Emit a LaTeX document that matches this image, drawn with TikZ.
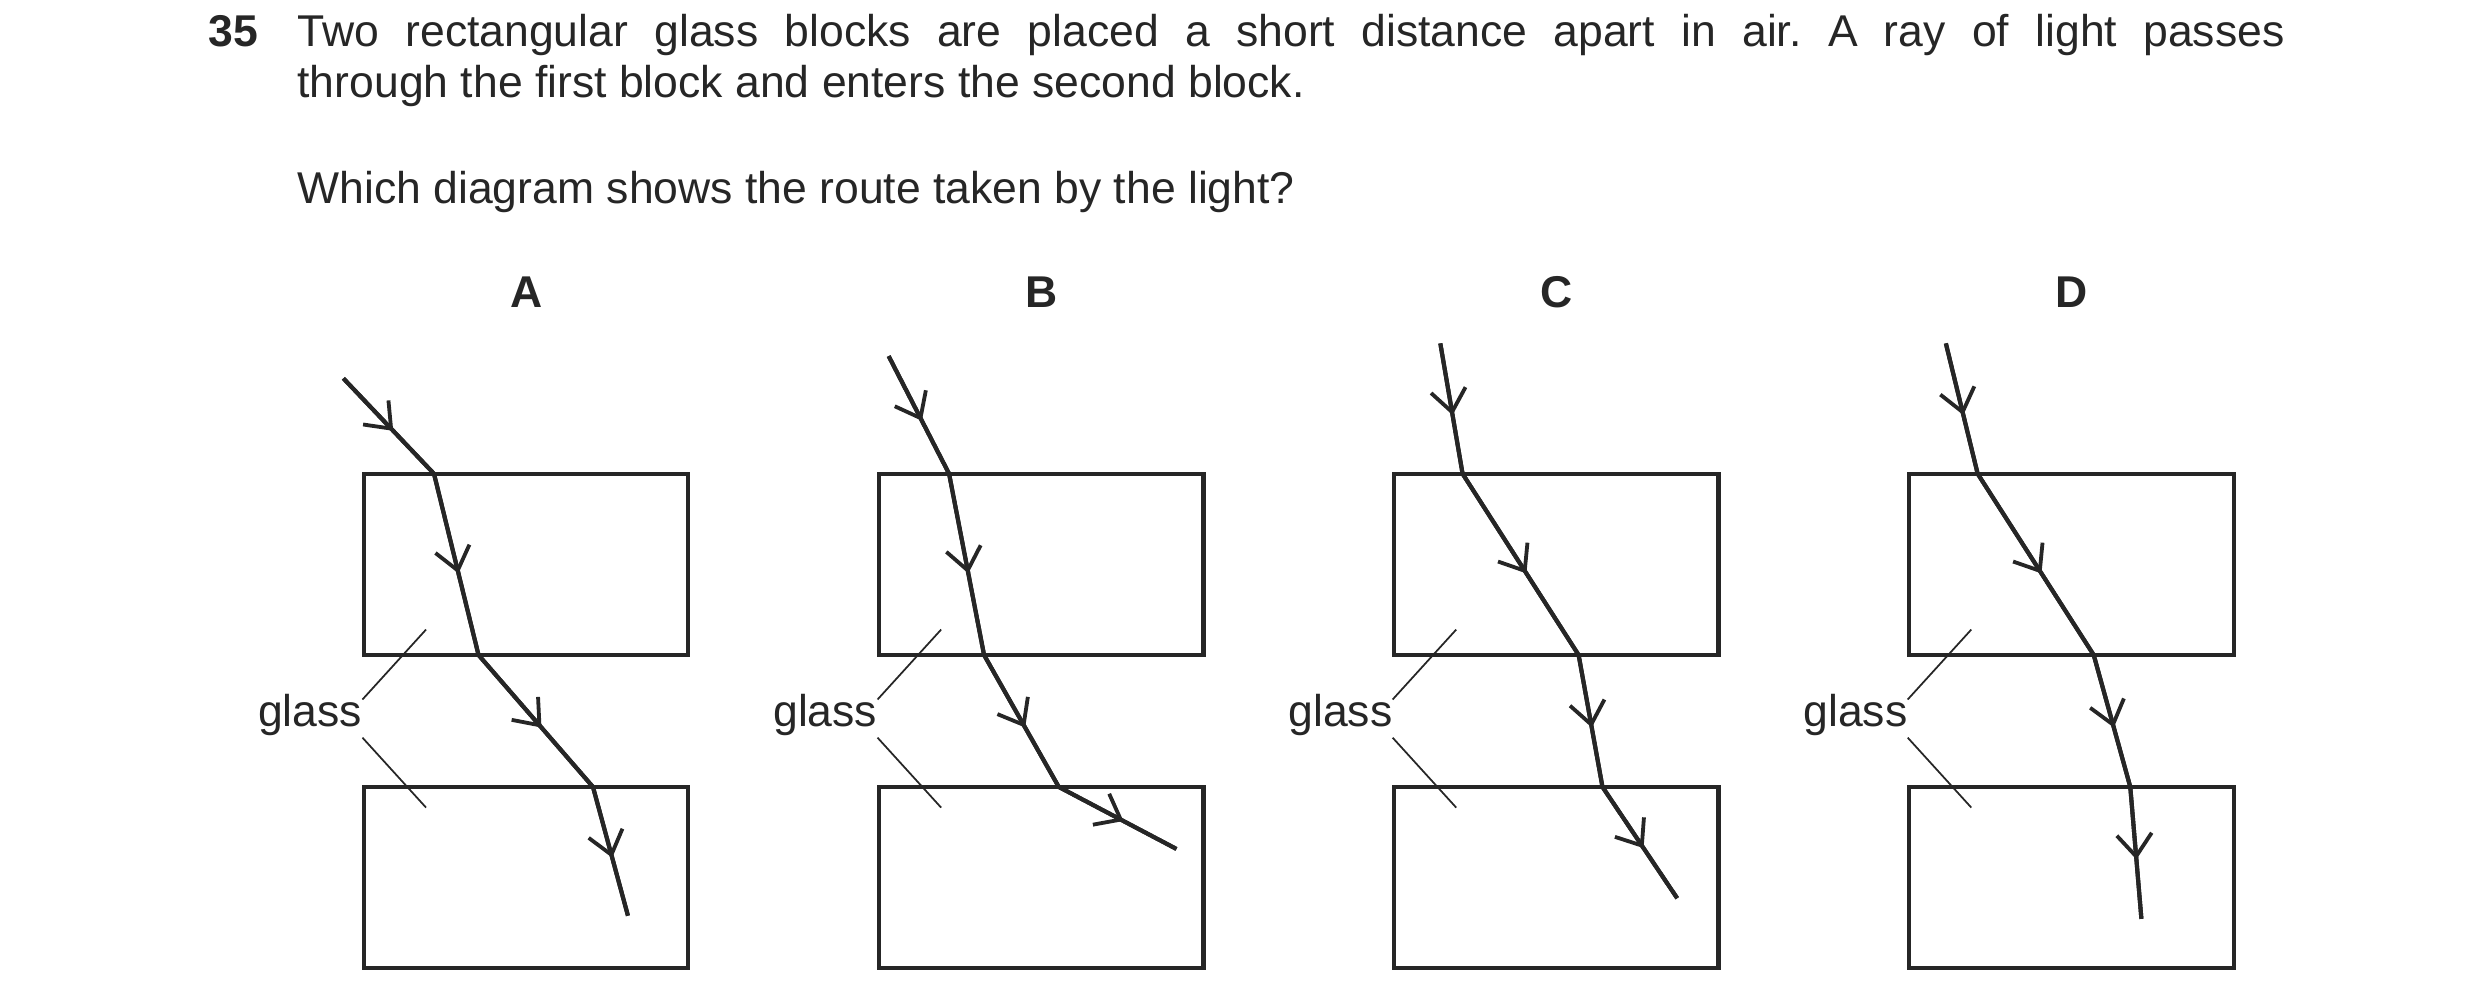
\documentclass[tikz,border=0pt]{standalone}
\usepackage{fontspec}
\setmainfont{Liberation Sans}
\usetikzlibrary{arrows.meta, decorations.markings}
\frenchspacing

\tikzset{
  block/.style={draw=black!85, line width=2.6pt},
  ray/.style={draw=black!85, line width=2.6pt, line join=round,
    postaction={decorate}, decoration={markings,
      mark=at position 0.55 with {\arrow{Straight Barb[length=14pt, width=22pt, line width=2.4pt]}}}},
  leader/.style={draw=black!85, line width=1.1pt},
  label/.style={font=\fontsize{28}{32}\selectfont\bfseries, text=black!85},
  word/.style={font=\fontsize{28}{32}\selectfont, text=black!85, inner sep=0pt}
}

\begin{document}
\begin{tikzpicture}[x=1pt, y=-1pt]
  \useasboundingbox (0,0) rectangle (1560,633);

  % question
  \node (num) [word, anchor=base west, font=\fontsize{28}{32}\selectfont\bfseries] at (131,29) {35};
  \node (stem) [word, anchor=north west, text width=1250pt, align=justify] at (187,9)
    {Two rectangular glass blocks are placed a short distance apart in air. A ray of light passes\linebreak through the first block and enters the second block.};
  \node (ask) [word, anchor=base west] at (187,128) {Which diagram shows the route taken by the light?};

  % blocks, titles and glass labels
  \foreach \name [count=\i from 0] in {A,B,C,D} {
    \draw [block] (229+324*\i,298) rectangle (433+324*\i,412);
    \draw [block] (229+324*\i,495) rectangle (433+324*\i,609);
    \node (title\name) [label] at (331+324*\i,184) {\name};
    \node (glass\name) [word, anchor=east] at (228+324*\i,450) {glass};
    \draw [leader] (228+324*\i,440) -- (268+324*\i,396);
    \draw [leader] (228+324*\i,464) -- (268+324*\i,508);
  }

  % rays
  \coordinate (a0) at (216,238); \coordinate (a1) at (273,298); \coordinate (a2) at (301,412);
  \coordinate (a3) at (373,495); \coordinate (a4) at (395,576);
  \coordinate (b0) at (559,224); \coordinate (b1) at (597,298); \coordinate (b2) at (619,412);
  \coordinate (b3) at (666,495); \coordinate (b4) at (740,534);
  \coordinate (c0) at (906,216); \coordinate (c1) at (920,298); \coordinate (c2) at (993,412);
  \coordinate (c3) at (1008,495); \coordinate (c4) at (1055,565);
  \coordinate (d0) at (1224,216); \coordinate (d1) at (1244,298); \coordinate (d2) at (1317,412);
  \coordinate (d3) at (1340,495); \coordinate (d4) at (1347,578);

  \foreach \r in {a,b,c,d} {
    \draw [ray] (\r0) -- (\r1);
    \draw [ray] (\r1) -- (\r2);
    \draw [ray] (\r2) -- (\r3);
    \draw [ray] (\r3) -- (\r4);
    \draw [draw=black!85, line width=2.6pt, line join=round] (\r0) -- (\r1) -- (\r2) -- (\r3) -- (\r4);
  }
\end{tikzpicture}
\end{document}
